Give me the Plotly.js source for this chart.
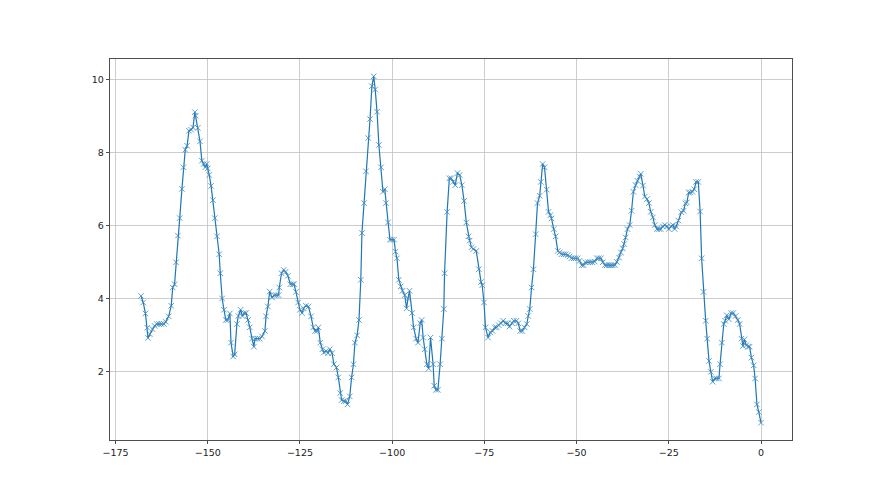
<!DOCTYPE html>
<html>
<head>
<meta charset="utf-8">
<script src="https://cdn.plot.ly/plotly-3.0.1.min.js"></script>
<style>html,body{margin:0;padding:0;background:#fff;}#chart{width:880px;height:495px;}</style>
</head>
<body>
<div id="chart"></div>
<script>
const xValues = [
-168.1,-167.5,-166.9,-166.4,-166.2,-165.7,-165.0,-164.4,-163.8,-163.2,-162.6,-161.9,-161.4,-160.6,-159.9,-159.5,-159.0,-158.6,-158.1,-157.6,
-157.0,-156.6,-156.1,-155.6,-155.1,-154.5,-154.0,-153.5,-153.3,-152.7,-152.1,-151.6,-151.1,-150.7,-150.3,-150.0,-149.6,-149.1,-148.6,-148.1,
-147.5,-146.9,-146.6,-146.1,-145.6,-145.1,-144.6,-144.0,-143.7,-143.1,-142.7,-142.1,-141.7,-141.1,-140.6,-140.1,-139.6,-139.1,-138.6,-138.0,
-137.5,-137.2,-136.5,-135.9,
-135.3,-134.5,-134.2,-133.7,-133.2,-132.6,-131.9,-131.4,-130.8,-130.6,-130.0,-129.4,-128.9,-128.3,-127.6,-127.0,-126.6,-126.1,-125.5,-125.0,
-124.4,-124.0,-123.4,-122.7,-122.0,-121.4,-120.9,-120.4,-120.0,-119.5,-118.9,-118.5,-117.9,-117.4,-116.9,-116.3,-115.8,-115.1,-114.6,-114.1,
-113.7,-113.1,-112.6,-112.1,-111.5,-111.0,-110.5,-110.1,-109.5,-109.0,
-108.5,-108.2,-107.6,-107.1,-106.5,-106.0,-105.5,-105.0,-104.6,-104.1,-103.6,-103.0,-102.5,-102.0,-101.7,-101.1,-100.6,-100.1,-99.5,-99.1,
-98.7,-98.2,-97.7,-97.2,-96.6,-96.1,-95.7,-95.3,-94.6,-94.2,-93.5,-93.0,-92.4,-92.0,-91.6,-91.2,-90.6,-90.1,-89.6,-88.9,
-88.6,-88.1,-87.6,-87.0,-86.5,-86.0,-85.8,-85.1,-84.5,-84.0,-83.4,-82.9,-82.3,-81.7,-81.1,-80.5,-79.9,-79.3,-79.0,-78.5,-78.0,
-77.2,-76.5,-75.9,-75.6,-75.1,-74.7,-74.0,-73.4,-72.8,-72.2,-71.7,-71.1,-70.5,-69.9,-69.3,-68.7,-68.2,-67.5,-67.0,-66.3,
-65.8,-65.3,-64.7,-64.1,-63.5,-63.1,-62.7,-62.2,-61.7,-61.1,-60.6,-60.0,-59.7,-59.2,-58.7,-58.1,-57.6,-57.1,-56.8,-56.2,
-55.7,-55.1,-54.6,-54.1,-53.5,-53.0,-52.4,-51.9,-51.4,-50.8,-50.3,-49.7,-49.2,-48.6,-48.1,-47.6,-46.9,-46.3,-45.7,-45.1,
-44.5,-44.0,-43.4,-42.9,-42.3,-41.8,-41.2,-40.7,-40.2,-39.6,-39.1,-38.5,-38.0,-37.5,-37.1,-36.7,-36.2,-35.6,-35.1,-34.6,
-34.0,-33.5,-32.9,-32.6,-32.0,-31.5,-30.9,-30.4,-29.9,-29.3,-28.8,-28.2,-27.7,-27.2,-26.6,-26.1,-25.5,-25.0,-24.4,-23.9,
-23.4,-23.0,-22.4,
-21.6,-21.0,-20.5,-20.1,-19.6,-19.2,-18.6,-18.1,-17.6,-17.0,-16.5,-16.1,-15.6,-15.0,-14.6,-14.1,-13.6,-13.1,-12.5,-12.0,
-11.4,-11.1,-10.6,-10.1,-9.7,-9.3,-8.7,-8.1,-7.5,-6.9,-6.3,-5.8,-5.3,-4.9,-4.5,-4.0,-3.5,-3.1,-2.6,-2.0,
-1.6,-1.1,-0.6,0.0
];
const yValues = [
4.07,3.89,3.59,3.20,2.92,3.02,3.16,3.25,3.30,3.30,3.30,3.30,3.36,3.51,3.80,4.30,4.39,4.99,5.72,6.20,
7.00,7.59,8.07,8.18,8.59,8.62,8.68,9.10,9.00,8.67,8.30,7.77,7.68,7.59,7.68,7.56,7.38,7.08,6.69,6.20,
5.70,5.21,4.69,4.00,3.69,3.41,3.41,3.59,2.79,2.41,2.47,3.30,3.52,3.69,3.52,3.60,3.60,3.41,3.21,2.90,
2.68,2.90,2.90,2.90,
2.96,3.11,3.51,3.78,4.19,4.03,4.09,4.09,4.09,4.30,4.69,4.78,4.73,4.62,4.39,4.39,4.39,4.18,3.89,3.69,
3.60,3.73,3.80,3.78,3.51,3.21,3.11,3.11,3.21,2.79,2.61,2.52,2.56,2.50,2.61,2.50,2.20,2.11,1.84,1.41,
1.22,1.19,1.19,1.10,1.32,1.84,2.20,2.79,2.99,3.41,
4.51,5.79,6.61,7.48,8.39,8.91,9.81,10.08,9.72,9.11,8.20,7.59,6.92,6.99,6.61,6.08,5.61,5.61,5.61,5.28,
5.10,4.51,4.33,4.21,4.09,3.73,4.00,4.21,3.60,3.21,2.90,2.79,3.32,3.41,2.93,2.61,2.20,2.08,2.93,2.20,
1.61,1.50,1.50,2.20,2.90,3.71,4.69,6.37,7.29,7.29,7.19,7.10,7.43,7.38,7.10,6.67,6.08,5.70,5.58,5.40,5.35,
5.30,4.80,4.45,4.36,3.89,3.21,2.93,3.07,3.11,3.21,3.21,3.27,3.32,3.39,3.32,3.32,3.23,3.32,3.39,3.39,
3.32,3.11,3.11,3.21,3.30,3.52,3.71,4.30,4.80,5.76,6.61,6.81,7.19,7.68,7.59,6.98,6.37,6.28,6.19,5.90,
5.70,5.30,5.26,5.21,5.21,5.21,5.19,5.15,5.10,5.10,5.10,5.10,5.03,4.91,4.91,4.99,4.99,4.99,4.99,5.01,
5.10,5.10,5.10,4.99,4.91,4.91,4.91,4.91,4.91,4.91,5.00,5.12,5.26,5.37,5.49,5.67,5.90,6.01,6.40,6.92,
7.10,7.22,7.34,7.41,7.09,6.79,6.72,6.61,6.37,6.22,6.01,5.90,5.90,5.90,5.97,6.01,5.97,5.90,5.97,6.01,
5.90,5.97,6.13,
6.36,6.40,6.60,6.63,6.90,6.90,6.92,6.99,7.19,7.19,6.38,5.10,4.18,3.39,2.90,2.29,1.99,1.72,1.81,1.81,
1.81,2.20,2.79,3.30,3.39,3.54,3.43,3.60,3.60,3.52,3.41,3.30,2.90,2.70,2.88,2.72,2.68,2.68,2.38,2.17,
1.81,1.10,0.89,0.60
];
const xTicks = [-175,-150,-125,-100,-75,-50,-25,0];
const yTicks = [2,4,6,8,10];

const xmin = Math.min(...xValues), xmax = Math.max(...xValues);
const ymin = Math.min(...yValues), ymax = Math.max(...yValues);
const xpad = (xmax - xmin) * 0.05, ypad = (ymax - ymin) * 0.05;

const trace = {
  x: xValues, y: yValues, type: 'scatter', mode: 'lines+markers',
  line: {color: '#1f77b4', width: 1.2},
  marker: {symbol: 'x-thin', size: 5.5, color: '#1f77b4', line: {color: '#3a88c0', width: 0.8}},
  hoverinfo: 'x+y'
};

const axisCommon = {
  showgrid: true, gridcolor: '#c0c0c0', gridwidth: 0.8, zeroline: false,
  showline: true, mirror: true, linecolor: '#222', linewidth: 0.8,
  ticks: 'outside', ticklen: 3.5, tickwidth: 0.8, tickcolor: '#222',
  tickfont: {family: 'DejaVu Sans, sans-serif', size: 9.5, color: '#222'}
};

const layout = {
  width: 880, height: 495,
  margin: {l: 110, r: 88, t: 59, b: 55},
  paper_bgcolor: '#fff', plot_bgcolor: '#fff',
  showlegend: false,
  xaxis: Object.assign({}, axisCommon, {range: [xmin - xpad, xmax + xpad], tickvals: xTicks, ticktext: xTicks.map(v => v < 0 ? '\u2212' + Math.abs(v) : String(v))}),
  yaxis: Object.assign({}, axisCommon, {range: [ymin - ypad, ymax + ypad], tickvals: yTicks})
};

Plotly.newPlot('chart', [trace], layout, {displayModeBar: false, staticPlot: true});
</script>
</body>
</html>
